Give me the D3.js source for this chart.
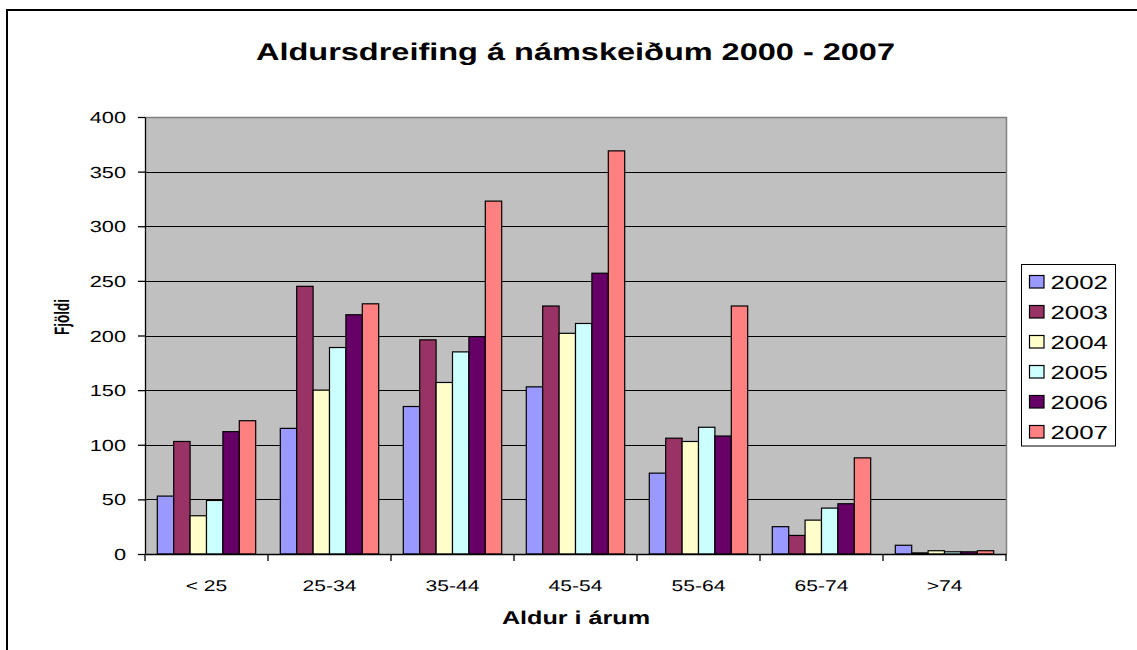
<!DOCTYPE html>
<html><head><meta charset="utf-8">
<script src="https://cdn.jsdelivr.net/npm/d3@7"></script>
<style>body{margin:0;background:#fff}svg{display:block}text{font-family:"Liberation Sans",Arial,sans-serif;fill:#000;text-rendering:geometricPrecision}</style>
</head><body>
<svg id="c" width="1137" height="650"></svg>
<script>
const categories = ["< 25","25-34","35-44","45-54","55-64","65-74",">74"];
const years = ["2002","2003","2004","2005","2006","2007"];
const v2002 = [53,115,135,153,74,25,8];
const v2003 = [103,245,196,227,106,17,1];
const v2004 = [35,150,157,202,103,31,3];
const v2005 = [49,189,185,211,116,42,2];
const v2006 = [112,219,199,257,108,46,2];
const v2007 = [122,229,323,369,227,88,3];
const seriesValues = [v2002,v2003,v2004,v2005,v2006,v2007];
const colors = ["#9999FF","#993366","#FFFFCC","#CCFFFF","#660066","#FF8080"];
const yTicks = [0,50,100,150,200,250,300,350,400];
const title = "Aldursdreifing á námskeiðum 2000 - 2007";
const xTitle = "Aldur i árum";
const yTitle = "Fjöldi";

const SX = 1.36; // horizontal stretch of text in reference
const svg = d3.select("#c");
const L = 145, R = 1006, T = 117, B = 554;

// outer frame
svg.append("rect").attr("x",7).attr("y",10).attr("width",1200).attr("height",800)
  .attr("fill","none").attr("stroke","#000").attr("stroke-width",2);

const x0 = d3.scaleBand().domain(categories).range([L,R]).paddingInner(0).paddingOuter(0);
const bw = x0.bandwidth();
const x1 = d3.scaleBand().domain(years).range([bw*0.75/7.5, bw - bw*0.75/7.5]).padding(0);
const y = d3.scaleLinear().domain([0,400]).range([B,T]);

// plot background
svg.append("rect").attr("x",L).attr("y",T).attr("width",R-L).attr("height",B-T).attr("fill","#C0C0C0");
// gridlines
svg.append("g").selectAll("line").data(yTicks.filter(d=>d>0 && d<400)).join("line")
  .attr("x1",L).attr("x2",R).attr("y1",d=>Math.round(y(d))+0.5).attr("y2",d=>Math.round(y(d))+0.5)
  .attr("stroke","#000").attr("stroke-width",1);
// top & right border gray
svg.append("path").attr("d",`M${L},${T+0.5}H${R+0.5}V${B}`).attr("fill","none").attr("stroke","#808080").attr("stroke-width",1.5);

// bars
const g = svg.append("g");
categories.forEach((c,ci)=>{
  years.forEach((yr,si)=>{
    const v = seriesValues[si][ci];
    g.append("rect")
      .attr("x", x0(c)+x1(yr)).attr("width", x1.bandwidth())
      .attr("y", y(v)).attr("height", B - y(v))
      .attr("fill", colors[si]).attr("stroke","#000").attr("stroke-width",1.2);
  });
});

// y axis
const yAxis = d3.axisLeft(y).tickValues(yTicks).tickSize(7).tickSizeOuter(0).tickPadding(0).tickFormat("");
const ya = svg.append("g").attr("transform",`translate(${L},0)`).call(yAxis);
ya.selectAll("path,line").attr("stroke","#000").attr("stroke-width",1.3);
yTicks.forEach(t=>{
  svg.append("text").attr("transform",`translate(126,${y(t)+6}) scale(${SX},1)`)
    .attr("text-anchor","end").attr("font-size",16).text(t);
});

// x axis
const xAxis = d3.axisBottom(x0).tickSize(0).tickSizeOuter(0).tickFormat("");
const xa = svg.append("g").attr("transform",`translate(0,${B})`).call(xAxis);
xa.select("path").attr("stroke","#000").attr("stroke-width",1.3);
xa.selectAll(".tick").remove();
const bounds = categories.map(c=>x0(c)).concat([R]);
svg.append("g").selectAll("line").data(bounds).join("line")
  .attr("x1",d=>d).attr("x2",d=>d).attr("y1",B).attr("y2",B+7)
  .attr("stroke","#000").attr("stroke-width",1.3);
categories.forEach(c=>{
  svg.append("text").attr("transform",`translate(${x0(c)+bw/2},${591}) scale(${SX},1)`)
    .attr("text-anchor","middle").attr("font-size",15.5).text(c);
});

// titles
svg.append("text").attr("transform",`translate(575.5,60) scale(${SX*0.995},1)`)
  .attr("text-anchor","middle").attr("font-size",24).attr("font-weight","bold").text(title);
svg.append("text").attr("transform",`translate(576,624) scale(${SX},1)`)
  .attr("text-anchor","middle").attr("font-size",18.5).attr("font-weight","bold").text(xTitle);
svg.append("text").attr("transform",`translate(69,317) scale(1.55,1) rotate(-90)`)
  .attr("text-anchor","middle").attr("font-size",13.5).attr("font-weight","bold").text(yTitle);

// legend
const lg = svg.append("g");
lg.append("rect").attr("x",1021.5).attr("y",264.5).attr("width",94).attr("height",181.5)
  .attr("fill","#fff").attr("stroke","#000").attr("stroke-width",1);
const ly = d3.scalePoint().domain(years).range([282,432]);
years.forEach((yr,i)=>{
  lg.append("rect").attr("x",1029.5).attr("y",ly(yr)-6.5).attr("width",14.5).attr("height",12.5)
    .attr("fill",colors[i]).attr("stroke","#000").attr("stroke-width",1.2);
  lg.append("text").attr("transform",`translate(1050.5,${ly(yr)+7}) scale(${SX},1)`)
    .attr("font-size",19).text(yr);
});
</script>
</body></html>
